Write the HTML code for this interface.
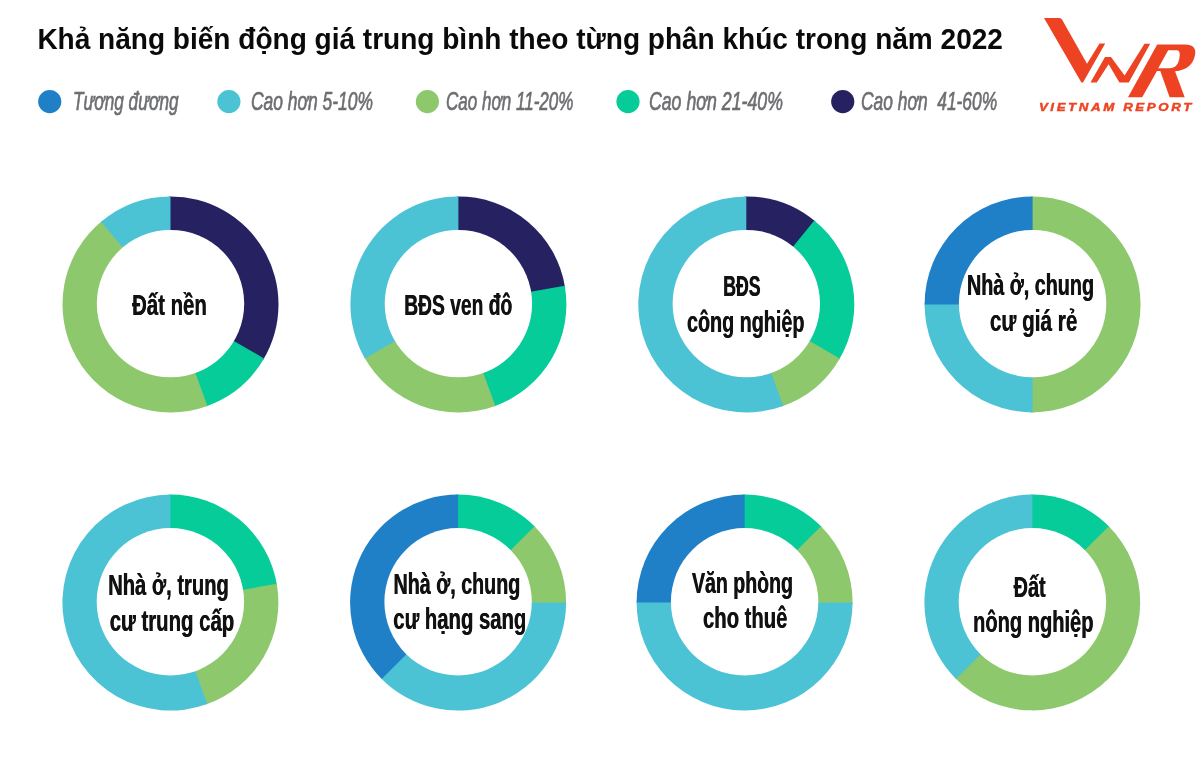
<!DOCTYPE html>
<html><head><meta charset="utf-8"><style>
html,body{margin:0;padding:0;background:#fff;width:1200px;height:767px;overflow:hidden}
svg{display:block;will-change:transform}
text{font-family:"Liberation Sans",sans-serif}
.title{font-weight:700;font-size:29px;fill:#0a0a0a}
.leg{font-style:italic;font-size:26px;fill:#6D6E71;stroke:#6D6E71;stroke-width:0.7px}
.lab{font-weight:700;font-size:29px;fill:#111}
.vnr{font-weight:700;font-style:italic;font-size:11.6px;fill:#EE4323;stroke:#EE4323;stroke-width:0.45px;letter-spacing:2.3px}
</style></head><body>
<svg width="1200" height="767" viewBox="0 0 1200 767">
<path fill="#262262" d="M170.50 304.40L168.99 196.41A108.0 108.0 0 0 1 263.27 359.70Z"/>
<path fill="#05CC98" d="M170.50 304.40L264.03 358.40A108.0 108.0 0 0 1 206.02 406.39Z"/>
<path fill="#8DC86D" d="M170.50 304.40L207.44 405.89A108.0 108.0 0 0 1 102.24 220.71Z"/>
<path fill="#4CC3D5" d="M170.50 304.40L101.08 221.67A108.0 108.0 0 0 1 170.50 196.40Z"/>
<circle cx="170.50" cy="303.60" r="73.7" fill="#fff"/>
<path fill="#262262" d="M458.40 304.40L456.89 196.41A108.0 108.0 0 0 1 565.01 287.13Z"/>
<path fill="#05CC98" d="M458.40 304.40L564.76 285.65A108.0 108.0 0 0 1 493.92 406.39Z"/>
<path fill="#8DC86D" d="M458.40 304.40L495.34 405.89A108.0 108.0 0 0 1 364.12 357.09Z"/>
<path fill="#4CC3D5" d="M458.40 304.40L364.87 358.40A108.0 108.0 0 0 1 458.40 196.40Z"/>
<circle cx="458.40" cy="303.60" r="73.7" fill="#fff"/>
<path fill="#262262" d="M746.30 304.40L744.79 196.41A108.0 108.0 0 0 1 815.43 221.43Z"/>
<path fill="#05CC98" d="M746.30 304.40L814.27 220.47A108.0 108.0 0 0 1 839.07 359.70Z"/>
<path fill="#8DC86D" d="M746.30 304.40L839.83 358.40A108.0 108.0 0 0 1 781.82 406.39Z"/>
<path fill="#4CC3D5" d="M746.30 304.40L783.24 405.89A108.0 108.0 0 1 1 746.30 196.40Z"/>
<circle cx="746.30" cy="303.60" r="73.7" fill="#fff"/>
<path fill="#8DC86D" d="M1032.60 304.40L1031.09 196.41A108.0 108.0 0 1 1 1031.09 412.39Z"/>
<path fill="#4CC3D5" d="M1032.60 304.40L1032.60 412.40A108.0 108.0 0 0 1 924.61 302.89Z"/>
<path fill="#1F80C8" d="M1032.60 304.40L924.60 304.40A108.0 108.0 0 0 1 1032.60 196.40Z"/>
<circle cx="1032.60" cy="303.60" r="73.7" fill="#fff"/>
<path fill="#05CC98" d="M170.40 602.60L168.89 494.61A108.0 108.0 0 0 1 277.01 585.33Z"/>
<path fill="#8DC86D" d="M170.40 602.60L276.76 583.85A108.0 108.0 0 0 1 205.92 704.59Z"/>
<path fill="#4CC3D5" d="M170.40 602.60L207.34 704.09A108.0 108.0 0 1 1 170.40 494.60Z"/>
<circle cx="170.40" cy="601.80" r="73.7" fill="#fff"/>
<path fill="#05CC98" d="M458.10 602.60L456.59 494.61A108.0 108.0 0 0 1 535.53 527.31Z"/>
<path fill="#8DC86D" d="M458.10 602.60L534.47 526.23A108.0 108.0 0 0 1 566.09 604.11Z"/>
<path fill="#4CC3D5" d="M458.10 602.60L566.10 602.60A108.0 108.0 0 0 1 380.67 677.89Z"/>
<path fill="#1F80C8" d="M458.10 602.60L381.73 678.97A108.0 108.0 0 0 1 458.10 494.60Z"/>
<circle cx="458.10" cy="601.80" r="73.7" fill="#fff"/>
<path fill="#05CC98" d="M744.60 602.60L743.09 494.61A108.0 108.0 0 0 1 822.03 527.31Z"/>
<path fill="#8DC86D" d="M744.60 602.60L820.97 526.23A108.0 108.0 0 0 1 852.59 604.11Z"/>
<path fill="#4CC3D5" d="M744.60 602.60L852.60 602.60A108.0 108.0 0 1 1 636.61 601.09Z"/>
<path fill="#1F80C8" d="M744.60 602.60L636.60 602.60A108.0 108.0 0 0 1 744.60 494.60Z"/>
<circle cx="744.60" cy="601.80" r="73.7" fill="#fff"/>
<path fill="#05CC98" d="M1032.40 602.60L1030.89 494.61A108.0 108.0 0 0 1 1109.83 527.31Z"/>
<path fill="#8DC86D" d="M1032.40 602.60L1108.77 526.23A108.0 108.0 0 1 1 954.97 677.89Z"/>
<path fill="#4CC3D5" d="M1032.40 602.60L956.03 678.97A108.0 108.0 0 0 1 1032.40 494.60Z"/>
<circle cx="1032.40" cy="601.80" r="73.7" fill="#fff"/>
<text class="lab" transform="translate(169.25 314.8) scale(0.7026 1)" text-anchor="middle">Đất nền</text>
<text class="lab" transform="translate(169.65 314.8) scale(0.7026 1)" text-anchor="middle">Đất nền</text>
<text class="lab" transform="translate(458.0 315.3) scale(0.6636 1)" text-anchor="middle">BĐS ven đô</text>
<text class="lab" transform="translate(458.40 315.3) scale(0.6636 1)" text-anchor="middle">BĐS ven đô</text>
<text class="lab" transform="translate(741.7 296.2) scale(0.6098 1)" text-anchor="middle">BĐS</text>
<text class="lab" transform="translate(742.10 296.2) scale(0.6098 1)" text-anchor="middle">BĐS</text>
<text class="lab" transform="translate(745.5 332.0) scale(0.682 1)" text-anchor="middle">công nghiệp</text>
<text class="lab" transform="translate(745.90 332.0) scale(0.682 1)" text-anchor="middle">công nghiệp</text>
<text class="lab" transform="translate(1030.3 295.4) scale(0.6813 1)" text-anchor="middle">Nhà ở, chung</text>
<text class="lab" transform="translate(1030.70 295.4) scale(0.6813 1)" text-anchor="middle">Nhà ở, chung</text>
<text class="lab" transform="translate(1033.42 330.9) scale(0.7137 1)" text-anchor="middle">cư giá rẻ</text>
<text class="lab" transform="translate(1033.82 330.9) scale(0.7137 1)" text-anchor="middle">cư giá rẻ</text>
<text class="lab" transform="translate(168.31 595.0) scale(0.6947 1)" text-anchor="middle">Nhà ở, trung</text>
<text class="lab" transform="translate(168.71 595.0) scale(0.6947 1)" text-anchor="middle">Nhà ở, trung</text>
<text class="lab" transform="translate(171.76 630.6) scale(0.7026 1)" text-anchor="middle">cư trung cấp</text>
<text class="lab" transform="translate(172.16 630.6) scale(0.7026 1)" text-anchor="middle">cư trung cấp</text>
<text class="lab" transform="translate(456.71 593.7) scale(0.6794 1)" text-anchor="middle">Nhà ở, chung</text>
<text class="lab" transform="translate(457.11 593.7) scale(0.6794 1)" text-anchor="middle">Nhà ở, chung</text>
<text class="lab" transform="translate(459.6 629.35) scale(0.6992 1)" text-anchor="middle">cư hạng sang</text>
<text class="lab" transform="translate(460.00 629.35) scale(0.6992 1)" text-anchor="middle">cư hạng sang</text>
<text class="lab" transform="translate(742.25 593.0) scale(0.6749 1)" text-anchor="middle">Văn phòng</text>
<text class="lab" transform="translate(742.65 593.0) scale(0.6749 1)" text-anchor="middle">Văn phòng</text>
<text class="lab" transform="translate(745.01 628.3) scale(0.6977 1)" text-anchor="middle">cho thuê</text>
<text class="lab" transform="translate(745.41 628.3) scale(0.6977 1)" text-anchor="middle">cho thuê</text>
<text class="lab" transform="translate(1029.41 596.9) scale(0.6866 1)" text-anchor="middle">Đất</text>
<text class="lab" transform="translate(1029.81 596.9) scale(0.6866 1)" text-anchor="middle">Đất</text>
<text class="lab" transform="translate(1033.1 631.8) scale(0.692 1)" text-anchor="middle">nông nghiệp</text>
<text class="lab" transform="translate(1033.50 631.8) scale(0.692 1)" text-anchor="middle">nông nghiệp</text>
<text class="title" transform="translate(37.38 48.8) scale(0.9668 1)">Khả năng biến động giá trung bình theo từng phân khúc trong năm 2022</text>
<text class="leg" transform="translate(72.98 109.7) scale(0.661 1)">Tương đương</text>
<text class="leg" transform="translate(250.98 109.7) scale(0.6712 1)">Cao hơn 5-10%</text>
<text class="leg" transform="translate(445.99 109.7) scale(0.6561 1)">Cao hơn 11-20%</text>
<text class="leg" transform="translate(648.94 109.7) scale(0.6824 1)">Cao hơn 21-40%</text>
<text class="leg" transform="translate(861.0 109.7) scale(0.669 1)">Cao hơn&#160;&#160;41-60%</text>
<text class="vnr" transform="translate(1038.88 110.9) scale(1.1434 1)">VIETNAM REPORT</text>
<circle cx="49.75" cy="101.6" r="11.6" fill="#1F80C8"/>
<circle cx="228.9" cy="101.6" r="11.6" fill="#4CC3D5"/>
<circle cx="427.4" cy="101.6" r="11.6" fill="#8DC86D"/>
<circle cx="628.0" cy="101.6" r="11.6" fill="#05CC98"/>
<circle cx="842.75" cy="101.6" r="11.6" fill="#262262"/>
<g fill="#EE4323">
<path d="M1044 18 L1059.5 18 Q1061 18 1062 19.6 L1087 63.8 L1099.5 43.6 L1105.2 43.6 L1083 82.6 L1081.4 82.6 Z"/>
<path d="M1090.5 82.6 L1105 57 L1111 57 L1124.6 75.5 L1144.5 43.8 L1150.2 43.8 L1128.8 82.6 L1119.4 82.6 L1108.6 64.2 L1096.8 82.6 Z"/>
<path fill-rule="evenodd" d="M1128 97.2 L1157.2 44.4 L1185 44.4 Q1197 44.4 1195 55 Q1192.5 69.5 1175 71.3 L1184.7 97.2 L1169.6 97.2 L1160.3 71 L1157 71 L1142.2 97.2 Z M1168.2 50.2 L1158.2 68.2 L1170 68.2 Q1177.5 68 1179.3 59 Q1181 50.2 1177 50.2 Z"/>
</g>
</svg>
</body></html>
